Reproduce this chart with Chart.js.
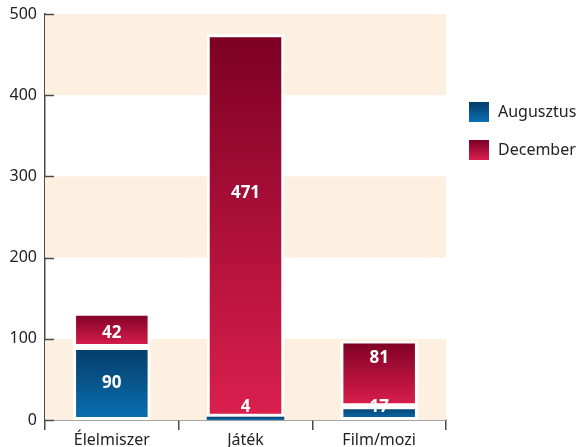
<!DOCTYPE html>
<html>
<head>
<meta charset="utf-8">
<script src="https://cdn.jsdelivr.net/npm/chart.js@4"></script>
<style>
  html, body { margin: 0; padding: 0; background: #fff; }
  #wrap { width: 580px; height: 447px; }
</style>
</head>
<body>
<div id="wrap"><canvas id="chart" width="580" height="447"></canvas></div>
<script>
// data
const categories = ['Élelmiszer', 'Játék', 'Film/mozi'];
const augusztus = [90, 4, 17];
const december = [42, 471, 81];
const seriesNames = ['Augusztus', 'December'];
const yTicks = [0, 100, 200, 300, 400, 500];

const FONT = '"Noto Sans", "Open Sans", sans-serif';
const gradStops = [
  ['#053c68', '#0a70b2'],   // blue: top, bottom
  ['#7c0024', '#db1f4d']    // red: top, bottom
];
const bandColor = '#fdf0e1';
const axisColor = '#4a4a4a';

// bar gradient, one per segment, from the segment's own top to bottom
const segGradient = function (ctx) {
  const chart = ctx.chart;
  const y = chart.scales.y;
  const fallback = gradStops[ctx.datasetIndex][1];
  if (!y || ctx.dataIndex === undefined) return fallback;
  let base = 0;
  for (let d = 0; d < ctx.datasetIndex; d++) {
    base += chart.data.datasets[d].data[ctx.dataIndex];
  }
  const v = chart.data.datasets[ctx.datasetIndex].data[ctx.dataIndex];
  const top = y.getPixelForValue(base + v);
  const bot = y.getPixelForValue(base);
  if (!isFinite(top) || !isFinite(bot) || top === bot) return fallback;
  const g = chart.ctx.createLinearGradient(0, top, 0, bot);
  g.addColorStop(0, gradStops[ctx.datasetIndex][0]);
  g.addColorStop(1, gradStops[ctx.datasetIndex][1]);
  return g;
};

// very thin segments get no white frame so the colour still shows
const segBorder = function (ctx) {
  const v = ctx.raw;
  return (typeof v === 'number' && v < 10) ? 0 : 3;
};

// cream bands behind, inner y ticks, value labels, legend
const decoPlugin = {
  id: 'deco',
  beforeDatasetsDraw(chart) {
    const c = chart.ctx, a = chart.chartArea, y = chart.scales.y;
    c.save();
    c.fillStyle = bandColor;
    for (let i = 0; i < yTicks.length - 1; i += 2) {
      const t = y.getPixelForValue(yTicks[i + 1]);
      const b = y.getPixelForValue(yTicks[i]);
      c.fillRect(a.left, t, a.right - a.left, b - t);
    }
    c.restore();
  },
  afterDatasetsDraw(chart) {
    const c = chart.ctx, a = chart.chartArea, y = chart.scales.y;
    c.save();
    // inner y ticks
    c.strokeStyle = axisColor;
    c.lineWidth = 1.5;
    yTicks.forEach(function (t) {
      const py = Math.round(y.getPixelForValue(t)) + 0.5;
      c.beginPath();
      c.moveTo(a.left, py);
      c.lineTo(a.left + 9, py);
      c.stroke();
    });
    // value labels
    c.fillStyle = '#fff';
    c.font = 'bold 17px ' + FONT;
    c.textAlign = 'center';
    c.textBaseline = 'middle';
    const dy = [[0, -12, -8], [3, -32, -15]];
    chart.data.datasets.forEach(function (ds, di) {
      const meta = chart.getDatasetMeta(di);
      meta.data.forEach(function (bar, i) {
        let cy = (bar.y + bar.base) / 2;
        if (Math.abs(bar.base - bar.y) < 20) cy = bar.base - 13;
        else cy += dy[di][i];
        c.fillText(String(ds.data[i]), bar.x, cy);
      });
    });
    // legend
    const lx = 469, ly = [102, 140];
    c.font = '16px ' + FONT;
    c.textAlign = 'left';
    seriesNames.forEach(function (name, i) {
      const g = c.createLinearGradient(0, ly[i], 0, ly[i] + 20);
      g.addColorStop(0, gradStops[i][0]);
      g.addColorStop(1, gradStops[i][1]);
      c.fillStyle = g;
      c.fillRect(lx, ly[i], 20, 20);
      c.fillStyle = '#222';
      c.fillText(name, lx + 29, ly[i] + 10);
    });
    c.restore();
  }
};

new Chart(document.getElementById('chart'), {
  type: 'bar',
  data: {
    labels: categories,
    datasets: [
      { label: seriesNames[0], data: augusztus, backgroundColor: segGradient,
        borderColor: '#fff', borderWidth: segBorder, borderSkipped: false },
      { label: seriesNames[1], data: december, backgroundColor: segGradient,
        borderColor: '#fff', borderWidth: segBorder, borderSkipped: false }
    ]
  },
  options: {
    responsive: false,
    animation: false,
    layout: { padding: { top: 14, right: 134, left: 0, bottom: 0 } },
    datasets: { bar: { categoryPercentage: 1, barPercentage: 0.58 } },
    plugins: { legend: { display: false }, tooltip: { enabled: false } },
    scales: {
      x: {
        stacked: true,
        afterFit: function (s) { s.height = 27; },
        grid: { display: true, offset: true, drawOnChartArea: false, tickLength: 10,
                color: axisColor, lineWidth: 1.5 },
        border: { display: true, color: axisColor, width: 1.5 },
        ticks: { color: '#222', font: { family: FONT, size: 16 }, padding: 1 }
      },
      y: {
        stacked: true,
        min: 0,
        max: 500,
        afterFit: function (s) { s.width = 45; },
        // the hidden tick length only pushes the labels left of the axis
        grid: { display: false, drawTicks: true, tickLength: 8 },
        border: { display: true, color: axisColor, width: 1.5 },
        ticks: { stepSize: 100, color: '#222', font: { family: FONT, size: 16 }, padding: 0 }
      }
    }
  },
  plugins: [decoPlugin]
});
</script>
</body>
</html>
